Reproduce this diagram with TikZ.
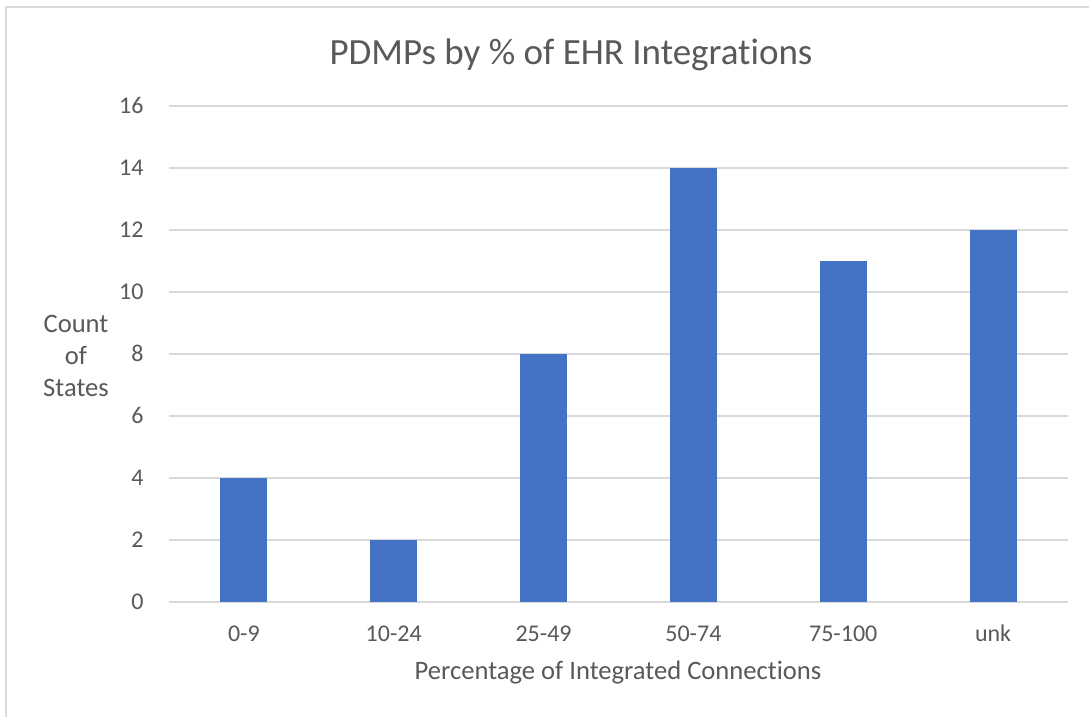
\documentclass[tikz,border=0pt]{standalone}
\usepackage{fontspec}
\setmainfont{Carlito}[Ligatures=NoCommon]
\usepackage{xcolor}
\usepackage{tikz}
\definecolor{barblue}{HTML}{4472C4}
\definecolor{gridgray}{HTML}{D9D9D9}
\definecolor{textgray}{HTML}{595959}
\tikzset{
  ticklabel/.style={text=textgray, font=\fontsize{24}{29}\selectfont},
  axistitle/.style={text=textgray, font=\fontsize{26.6}{32}\selectfont},
  charttitle/.style={text=textgray, font=\fontsize{37}{44}\selectfont},
  gridline/.style={draw=gridgray, line width=1.5pt},
}
\begin{document}
\begin{tikzpicture}[x=1pt, y=-1pt]
  \useasboundingbox (0,0) rectangle (1089,717);
  \fill[white] (0,0) rectangle (1089,717);
  % chart frame
  \draw[gridgray, line width=1.5pt] (6,717) -- (6,7) -- (1089,7);
  % title
  \node[charttitle, anchor=base] (title) at (571,64) {PDMPs by \% of EHR Integrations};
  % grid and value axis
  \foreach \v in {0,2,...,16} {
    \draw[gridline] (169,602-31*\v) -- (1068,602-31*\v);
    \node[ticklabel, anchor=base east] (tick\v) at (147,609.5-31*\v) {\v};
  }
  % bars and category labels
  \foreach \lab/\val [count=\i] in {0-9/4, 10-24/2, 25-49/8, 50-74/14, 75-100/11, unk/12} {
    \pgfmathsetmacro{\cx}{169+149.83*(\i-0.5)}
    \fill[barblue] (\cx-23.5,602) rectangle (\cx+23.5,602-31*\val);
    \node[ticklabel, anchor=base] (cat\i) at (\cx,641) {\lab};
  }
  % axis titles
  \node[axistitle, anchor=base] (xtitle) at (618,679) {Percentage of Integrated Connections};
  \node[axistitle, align=center] (ytitle) at (76,356) {Count\\of\\States};
\end{tikzpicture}
\end{document}
